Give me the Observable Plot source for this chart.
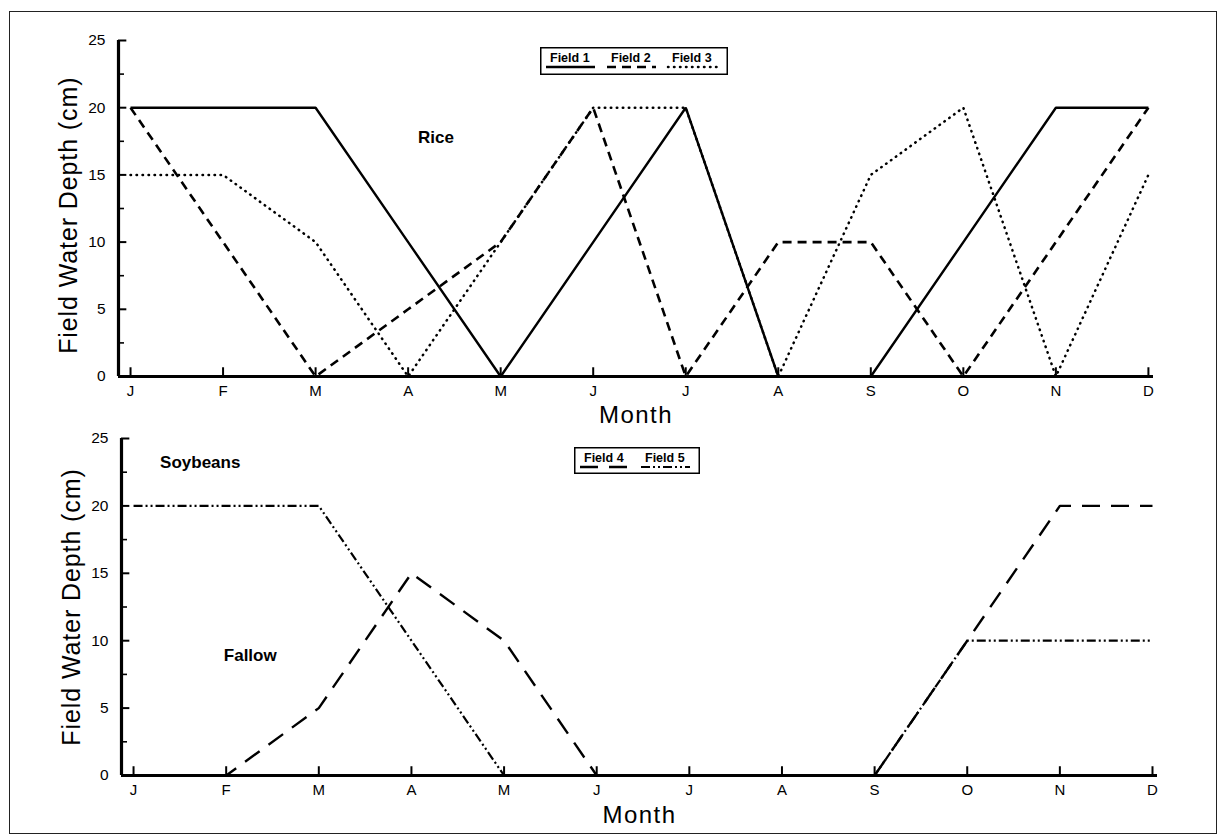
<!DOCTYPE html>
<html><head><meta charset="utf-8">
<script src="https://cdn.jsdelivr.net/npm/d3@7"></script>
<script src="https://cdn.jsdelivr.net/npm/@observablehq/plot@0.6"></script>
<style>
body{margin:0;background:#fff;font-family:"Liberation Sans",Arial,sans-serif;}
#page{position:relative;width:1227px;height:838px;overflow:hidden;background:#fff;}
#frame{position:absolute;left:9px;top:11px;width:1208px;height:823px;border:1.5px solid #222;box-sizing:border-box;pointer-events:none;}
.panel{position:absolute;left:0;}
.legend{position:absolute;}
</style></head>
<body>
<div id="page">
  <div id="frame"></div>
  <div id="top" class="panel" style="top:0px"></div>
  <div id="bottom" class="panel" style="top:430px"></div>
  <div id="legTop" class="legend" style="left:540px;top:47px"></div>
  <div id="legBot" class="legend" style="left:574px;top:447px"></div>
</div>
<script>
// ---- data ----
const months = ["J","F","M","A","M","J","J","A","S","O","N","D"];
const field1 = [20,20,20,10,0,10,20,0,0,10,20,20];
const field2 = [20,10,0,5,10,20,0,10,10,0,10,20];
const field3 = [15,15,10,0,10,20,20,0,15,20,0,15];
const field4 = [0,0,5,15,10,0,0,0,0,10,20,20];
const field5 = [20,20,20,10,0,0,0,0,0,10,10,10];
const yMajor = [0,5,10,15,20,25];
const yMinor = [2.5,7.5,12.5,17.5,22.5];
const topNotes = [{text:"Rice", m:3.3, v:17.8}];
const bottomNotes = [{text:"Soybeans", m:0.72, v:23.2},{text:"Fallow", m:1.26, v:8.9}];
const yTitle = "Field Water Depth (cm)";
const xTitle = "Month";

const styles = {
  "Field 1": {dash:null, width:2.4, cap:"butt"},
  "Field 2": {dash:"9,6", width:2.6, cap:"butt"},
  "Field 3": {dash:"0.5,5.5", width:2.5, cap:"round"},
  "Field 4": {dash:"18,11", width:2.4, cap:"butt"},
  "Field 5": {dash:"9,3,2,3,2,3", width:2.2, cap:"butt"}
};

function toRows(name, vals){ return vals.map((v,i)=>({field:name, m:i, v})); }

function panel(series, notes, opts){
  const {height, marginTop, marginBottom, marginLeft, marginRight, xmin, xmax, monthDy, yMid} = opts;
  const k = (1227 - marginLeft - marginRight) / (xmax - xmin); // px per month unit
  const marks = [];
  for (const [name, vals] of series){
    const s = styles[name];
    marks.push(Plot.line(toRows(name, vals), {x:"m", y:"v", stroke:"black", strokeWidth:s.width,
      strokeDasharray:s.dash, strokeLinecap:s.cap, strokeLinejoin:"miter"}));
  }
  marks.push(
    Plot.ruleY([0], {stroke:"black", strokeWidth:3.2}),
    Plot.ruleX([xmin], {y1:0, y2:25, stroke:"black", strokeWidth:3.2}),
    Plot.ruleX(d3.range(12), {x:d=>d, y1:0, y2:0.65, stroke:"black", strokeWidth:2}),
    Plot.ruleY(yMajor, {y:d=>d, x1:xmin, x2:xmin+0.09, stroke:"black", strokeWidth:2}),
    Plot.ruleY(yMinor, {y:d=>d, x1:xmin, x2:xmin+0.065, stroke:"black", strokeWidth:1.6}),
    Plot.axisY(yMajor, {tickSize:0, tickPadding:13, fontSize:15.5, label:null}),
    Plot.axisX(d3.range(12), {tickSize:0, tickPadding:9, fontSize:15, tickFormat:i=>months[i], label:null}),
    Plot.text([yTitle], {x:()=>xmin - 50/k, y:()=>yMid, rotate:-90, fontSize:25}),
    Plot.text([xTitle], {frameAnchor:"bottom", dy:monthDy, fontSize:24}),
    Plot.text(notes, {x:"m", y:"v", text:"text", fontSize:17, fontWeight:"bold"})
  );
  const svg = Plot.plot({
    width:1227, height, marginTop, marginBottom, marginLeft, marginRight,
    x:{domain:[xmin, xmax]}, y:{domain:[0,25]},
    style:{fontFamily:'"Liberation Sans", Arial, sans-serif', color:"black", background:"transparent", overflow:"visible"},
    marks
  });
  svg.querySelectorAll("text").forEach(t => {
    if (t.textContent === yTitle) t.style.letterSpacing = "0.9px";
    if (t.textContent === xTitle) t.style.letterSpacing = "1.5px";
  });
  return svg;
}

document.getElementById("top").append(panel(
  [["Field 1", field1],["Field 2", field2],["Field 3", field3]], topNotes,
  {height:430, marginTop:40, marginBottom:54, marginLeft:118, marginRight:74, xmin:-0.13, xmax:11.055, monthDy:46, yMid:12}));
document.getElementById("bottom").append(panel(
  [["Field 4", field4],["Field 5", field5]], bottomNotes,
  {height:408, marginTop:8, marginBottom:63, marginLeft:121, marginRight:70, xmin:-0.13, xmax:11.054, monthDy:47, yMid:12.5}));

function legend(el, names, w, h, slot){
  const svg = d3.create("svg").attr("width", w).attr("height", h);
  svg.append("rect").attr("x",0.75).attr("y",0.75).attr("width",w-1.5).attr("height",h-1.5)
    .attr("fill","white").attr("stroke","black").attr("stroke-width",1.5);
  names.forEach((n,i)=>{
    const x0 = 6 + i*slot;
    svg.append("text").attr("x", x0+4).attr("y", 15).attr("font-size", 12.5).attr("font-weight","bold")
      .attr("font-family",'"Liberation Sans", Arial, sans-serif').text(n);
    const s = styles[n];
    svg.append("line").attr("x1", x0).attr("x2", x0+slot-12).attr("y1", 20).attr("y2", 20)
      .attr("stroke","black").attr("stroke-width", s.width)
      .attr("stroke-dasharray", s.dash).attr("stroke-linecap", s.cap);
  });
  document.getElementById(el).append(svg.node());
}
legend("legTop", ["Field 1","Field 2","Field 3"], 188, 28, 61);
legend("legBot", ["Field 4","Field 5"], 126, 27, 61);
</script>
</body></html>
